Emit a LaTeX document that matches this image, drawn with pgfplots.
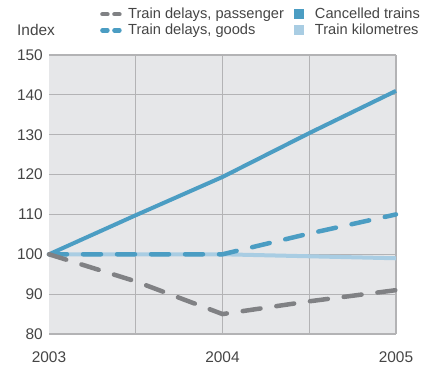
\documentclass[border=0pt]{standalone}
\usepackage{fontspec}
\setmainfont{Liberation Sans}
\usepackage{pgfplots}
\pgfplotsset{compat=1.18}
\definecolor{cblue}{HTML}{4B9DC3}
\definecolor{lblue}{HTML}{A9CDE3}
\definecolor{pgray}{HTML}{808184}
\definecolor{bg}{HTML}{E6E7E9}
\definecolor{gridc}{HTML}{B3B3B5}
\definecolor{txt}{HTML}{454545}
\begin{document}
\begin{tikzpicture}
\begin{axis}[
  at={(0,0)}, anchor=south west,
  scale only axis, width=347bp, height=279bp,
  xmin=2003, xmax=2005, ymin=80, ymax=150,
  axis background/.style={fill=bg},
  axis line style={draw=none},
  xtick={2003,2004,2005},
  xticklabels={2003,2004,2005},
  ytick={80,90,...,150},
  extra x ticks={2003.5,2004,2004.5,2005},
  extra x tick labels={},
  extra x tick style={grid=major, major grid style={gridc, line width=1.1bp}},
  ymajorgrids, major grid style={gridc, line width=1.1bp},
  major tick length=0pt,
  tick style={draw=none},
  /pgf/number format/assume math mode=true,
  /pgf/number format/1000 sep={},
  ticklabel style={font=\fontsize{15.5}{18}\selectfont, text=txt},
  yticklabel style={anchor=east, inner sep=0pt, xshift=-6bp},
  xticklabel style={anchor=north, inner sep=0pt, yshift=-18bp},
  legend columns=2,
  legend cell align=left,
  legend style={draw=none, fill=none, at={(51bp,328bp)}, anchor=north west,
    font=\fontsize{14.7}{17}\selectfont, text=txt, inner sep=0pt,
    /tikz/every even column/.append style={column sep=8bp},
    row sep=0bp},
  clip=false,
]
\addlegendimage{legend image code/.code={\draw[pgray, line width=4.5bp, line cap=round, dash pattern=on 5bp off 7bp] (2.5bp,0) -- (24bp,0);}}
\addlegendentry{Train delays, passenger}
\addlegendimage{legend image code/.code={\fill[cblue, draw=none] (0bp,-5bp) rectangle (10bp,5bp); \path[draw=none, fill=none] (0,0) -- (19bp,0);}}
\addlegendentry{Cancelled trains}
\addlegendimage{legend image code/.code={\draw[cblue, line width=4.5bp, line cap=round, dash pattern=on 5bp off 7bp] (2.5bp,0) -- (24bp,0);}}
\addlegendentry{Train delays, goods}
\addlegendimage{legend image code/.code={\fill[lblue, draw=none] (0bp,-5bp) rectangle (10bp,5bp); \path[draw=none, fill=none] (0,0) -- (19bp,0);}}
\addlegendentry{Train kilometres}

\addplot[forget plot, lblue, line width=4bp] coordinates {(2003,100) (2003.5,100) (2004,100) (2004.5,99.5) (2005,99)};
\addplot[forget plot, cblue, line width=4bp, line join=round] coordinates {(2003,100) (2003.5,109.8) (2004,119.4) (2004.5,130.4) (2005,141)};
\addplot[forget plot, cblue, line width=4.5bp, line cap=round, dash pattern=on 18bp off 16bp] coordinates {(2003,100) (2003.5,100) (2004,100) (2004.5,105.2) (2005,110)};
\addplot[forget plot, pgray, line width=4.5bp, line cap=round, dash pattern=on 18bp off 16bp] coordinates {(2003,100) (2003.5,93.2) (2004,85) (2004.5,88.2) (2005,91)};
\node[anchor=west, inner sep=0pt, text=txt, font=\fontsize{15.5}{18}\selectfont] at (rel axis cs:0,1) [xshift=-32bp, yshift=25bp] {Index};
\end{axis}
\useasboundingbox (-49bp,-35bp) rectangle (379bp,334bp);
\end{tikzpicture}
\end{document}
